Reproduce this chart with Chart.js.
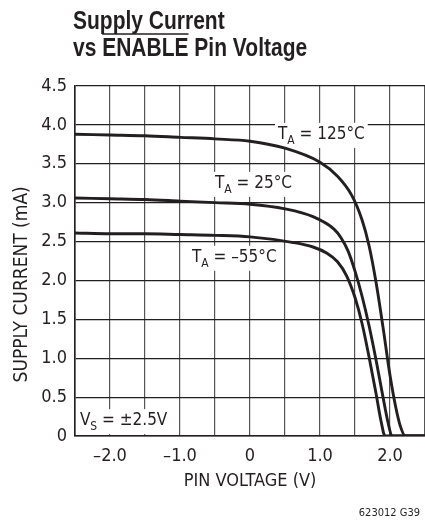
<!DOCTYPE html>
<html>
<head>
<meta charset="utf-8">
<script src="https://cdn.jsdelivr.net/npm/chart.js@4.4.1/dist/chart.umd.min.js"></script>
<style>
  html, body { margin: 0; padding: 0; background: #fff; }
  canvas { display: block; }
</style>
</head>
<body>
<canvas id="c" width="425" height="520"></canvas>
<script>
// ---- data ----
const V_125 = [-2.5, -2.0, -1.5, -1.0, -0.5, 0, 0.5, 1.0, 1.25, 1.45, 1.6, 1.7, 1.8, 1.9, 2.0, 2.08, 2.15, 2.22, 2.5];
const I_125 = [3.88, 3.87, 3.86, 3.84, 3.82, 3.79, 3.70, 3.52, 3.34, 3.10, 2.78, 2.45, 1.98, 1.40, 0.78, 0.38, 0.12, 0.0, 0.0];

const V_25 = [-2.5, -2.0, -1.5, -1.0, -0.5, 0, 0.5, 0.9, 1.2, 1.3, 1.4, 1.5, 1.6, 1.7, 1.8, 1.9, 1.97, 2.03, 2.5];
const I_25 = [3.06, 3.05, 3.04, 3.02, 3.00, 2.98, 2.92, 2.82, 2.66, 2.55, 2.38, 2.12, 1.80, 1.42, 0.98, 0.50, 0.18, 0.0, 0.0];

const V_M55 = [-2.5, -2.0, -1.5, -1.0, -0.5, 0, 0.6, 0.9, 1.1, 1.25, 1.38, 1.5, 1.6, 1.7, 1.8, 1.87, 1.93, 2.5];
const I_M55 = [2.61, 2.60, 2.60, 2.59, 2.58, 2.56, 2.49, 2.43, 2.35, 2.24, 2.06, 1.78, 1.45, 1.02, 0.55, 0.20, 0.0, 0.0];

const X_TICKS_LABELLED = [-2, -1, 0, 1, 2];
const TITLE_LINE1 = 'Supply Current';
const TITLE_LINE2 = ['vs ', 'ENABLE', ' Pin Voltage'];
const X_TITLE = 'PIN VOLTAGE (V)';
const Y_TITLE = 'SUPPLY CURRENT (mA)';
const FOOTNOTE = '623012 G39';

// curve annotations
const NOTE_MAIN = ['T', 'T', 'T', 'V'];
const NOTE_SUB = ['A', 'A', 'A', 'S'];
const NOTE_REST = [' = 125°C', ' = 25°C', ' = –55°C', ' = ±2.5V'];
const NOTE_X = [0.40, -0.50, -0.83, -2.43];
const NOTE_Y = [3.82, 3.19, 2.24, 0.14];

const FONT = "'DejaVu Sans Condensed', 'Liberation Sans', sans-serif";
const TITLE_FONT = "'Liberation Sans', Arial, sans-serif";
const INK = '#231f20';

function pts(xs, ys) { return xs.map((x, i) => ({ x: x, y: ys[i] })); }
function fmt(v) {
  if (Math.abs(v) < 1e-9) return '0';
  const s = Math.abs(v).toFixed(1);
  return v < 0 ? '–' + s : s;
}

const notesPlugin = {
  id: 'notes',
  beforeDatasetsDraw(chart) {
    const ctx = chart.ctx;
    const xs = chart.scales.x, ys = chart.scales.y;
    ctx.save();
    for (let i = 0; i < NOTE_MAIN.length; i++) {
      const px = xs.getPixelForValue(NOTE_X[i]);
      const py = ys.getPixelForValue(NOTE_Y[i]);
      ctx.font = '17px ' + FONT;
      const w1 = ctx.measureText(NOTE_MAIN[i]).width;
      ctx.font = '12px ' + FONT;
      const w2 = ctx.measureText(NOTE_SUB[i]).width;
      ctx.font = '17px ' + FONT;
      const w3 = ctx.measureText(NOTE_REST[i]).width;
      ctx.fillStyle = '#fff';
      ctx.fillRect(px - 3, py - 16, w1 + w2 + w3 + 6, 25);
      ctx.fillStyle = INK;
      ctx.textBaseline = 'alphabetic';
      ctx.textAlign = 'left';
      ctx.font = '17px ' + FONT;
      ctx.fillText(NOTE_MAIN[i], px, py);
      ctx.font = '12px ' + FONT;
      ctx.fillText(NOTE_SUB[i], px + w1, py + 5);
      ctx.font = '17px ' + FONT;
      ctx.fillText(NOTE_REST[i], px + w1 + w2, py);
    }
    ctx.restore();
  },
  afterDraw(chart) {
    const ctx = chart.ctx;
    ctx.save();
    ctx.fillStyle = INK;
    ctx.strokeStyle = INK;
    ctx.textAlign = 'left';
    ctx.textBaseline = 'alphabetic';
    // condensed bold title (horizontal compression)
    ctx.save();
    ctx.translate(73, 0);
    ctx.scale(0.84, 1);
    ctx.font = 'bold 25px ' + TITLE_FONT;
    ctx.fillText(TITLE_LINE1, 0, 29);
    let x = 0;
    for (let k = 0; k < TITLE_LINE2.length; k++) {
      const w = ctx.measureText(TITLE_LINE2[k]).width;
      ctx.fillText(TITLE_LINE2[k], x, 56);
      if (k === 1) {
        ctx.lineWidth = 1.6;
        ctx.beginPath();
        ctx.moveTo(x, 34);
        ctx.lineTo(x + w, 34);
        ctx.stroke();
      }
      x += w;
    }
    ctx.restore();
    // y-axis title (rotated), placed as in the reference
    ctx.save();
    ctx.translate(22, chart.scales.y.getPixelForValue(1.95));
    ctx.rotate(-Math.PI / 2);
    ctx.textAlign = 'center';
    ctx.textBaseline = 'middle';
    ctx.font = '19px ' + FONT;
    ctx.fillText(Y_TITLE, 0, 0);
    ctx.restore();
    ctx.font = '11px ' + FONT;
    ctx.textAlign = 'right';
    ctx.fillText(FOOTNOTE, 420, 516);
    ctx.restore();
  }
};

const ds = (data) => ({
  data: data,
  borderColor: INK,
  borderWidth: 2.9,
  pointRadius: 0,
  fill: false,
  cubicInterpolationMode: 'monotone'
});

new Chart(document.getElementById('c'), {
  type: 'line',
  data: {
    datasets: [ds(pts(V_125, I_125)), ds(pts(V_25, I_25)), ds(pts(V_M55, I_M55))]
  },
  options: {
    responsive: false,
    animation: false,
    devicePixelRatio: 1,
    layout: { padding: { top: 86, right: 0, bottom: 0, left: 0 } },
    plugins: { legend: { display: false }, tooltip: { enabled: false }, title: { display: false } },
    scales: {
      x: {
        type: 'linear',
        min: -2.5, max: 2.5,
        ticks: {
          stepSize: 0.5,
          autoSkip: false,
          maxRotation: 0,
          padding: 10,
          color: INK,
          font: { family: FONT, size: 18 },
          callback: (v) => X_TICKS_LABELLED.some(t => Math.abs(t - v) < 1e-6) ? fmt(v) : ''
        },
        grid: { color: '#555', lineWidth: 1.2, drawTicks: false },
        border: { color: INK, width: 1.6 },
        title: { display: true, text: X_TITLE, color: INK, font: { family: FONT, size: 18 }, padding: { top: 0, bottom: 28 } },
        afterFit: (s) => { s.height = 84; s.paddingLeft = 0; s.paddingRight = 0; }
      },
      y: {
        min: 0, max: 4.5,
        ticks: {
          stepSize: 0.5,
          padding: 8,
          color: INK,
          font: { family: FONT, size: 18 },
          callback: (v) => fmt(v)
        },
        grid: { color: INK, lineWidth: 1.2, drawTicks: false },
        border: { color: INK, width: 1.6 },
        title: { display: false, text: Y_TITLE },
        afterFit: (s) => { s.width = 75; s.paddingTop = 0; s.paddingBottom = 0; }
      }
    }
  },
  plugins: [notesPlugin]
});
</script>
</body>
</html>
